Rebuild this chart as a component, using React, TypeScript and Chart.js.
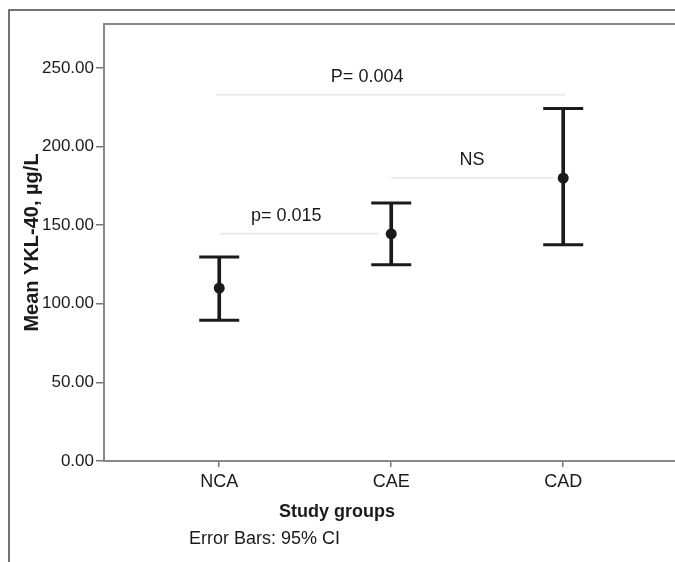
import React, { useEffect, useRef } from "react";
import { Chart, registerables } from "chart.js";

Chart.register(...registerables);

// ---- data ----
const groups = ["NCA", "CAE", "CAD"];
const groupX = [1, 2, 3];
const means = [110, 144.5, 180];
const ciLower = [89.5, 124.8, 137.5];
const ciUpper = [129.8, 164.2, 224.3];
const yTicks = [0, 50, 100, 150, 200, 250];

const comparisonLabels = ["p= 0.015", "NS", "P= 0.004"];
const comparisonFromX = [1.0, 2.0, 0.98];
const comparisonToX = [1.93, 2.94, 3.01];
const comparisonY = [144.5, 180, 233];
const comparisonLabelX = [1.39, 2.47, 1.86];

const yTitle = "Mean YKL-40, µg/L";
const xTitle = "Study groups";
const footnote = "Error Bars: 95% CI";

const FONT = '"Liberation Sans", Arial, sans-serif';
const INK = "#1a1a1a";

const decorPlugin = {
  id: "decor",
  beforeDraw(chart: any) {
    const ctx = chart.ctx;
    const { left, top, right } = chart.chartArea;
    ctx.save();
    ctx.fillStyle = "#ffffff";
    ctx.fillRect(0, 0, chart.width, chart.height);
    ctx.strokeStyle = "#444444";
    ctx.lineWidth = 1.5;
    ctx.beginPath();
    ctx.moveTo(9, chart.height);
    ctx.lineTo(9, 10);
    ctx.lineTo(chart.width, 10);
    ctx.stroke();
    ctx.strokeStyle = "#888888";
    ctx.lineWidth = 2;
    ctx.beginPath();
    ctx.moveTo(left, top);
    ctx.lineTo(right, top);
    ctx.stroke();
    ctx.restore();
  },
  afterDraw(chart: any) {
    const ctx = chart.ctx;
    const xs = chart.scales.x;
    const ys = chart.scales.y;
    ctx.save();
    ctx.fillStyle = INK;
    ctx.textBaseline = "middle";
    ctx.textAlign = "center";
    ctx.font = `18px ${FONT}`;
    comparisonLabels.forEach((t, i) => {
      ctx.fillText(t, xs.getPixelForValue(comparisonLabelX[i]), ys.getPixelForValue(comparisonY[i]) - 18);
    });
    ctx.textAlign = "left";
    ctx.font = `bold 18px ${FONT}`;
    ctx.fillText(xTitle, 279, 512);
    ctx.font = `18px ${FONT}`;
    ctx.fillText(footnote, 189, 539);
    ctx.restore();
  },
};

export default function App() {
  const canvasRef = useRef<HTMLCanvasElement | null>(null);

  useEffect(() => {
    if (!canvasRef.current) return;
    const capPoints: { x: number; y: number }[] = [];
    groupX.forEach((x, i) => {
      capPoints.push({ x, y: ciUpper[i] });
      capPoints.push({ x, y: ciLower[i] });
    });

    const comparisonSets = comparisonLabels.map((label, i) => ({
      type: "line" as const,
      label,
      data: [
        { x: comparisonFromX[i], y: comparisonY[i] },
        { x: comparisonToX[i], y: comparisonY[i] },
      ],
      showLine: true,
      borderColor: "#ebebeb",
      borderWidth: 2,
      pointRadius: 0,
      fill: false,
    }));

    const chart = new Chart(canvasRef.current, {
      type: "scatter",
      data: {
        datasets: [
          {
            type: "scatter",
            label: "Mean",
            data: groupX.map((x, i) => ({ x, y: means[i] })),
            pointRadius: 5.5,
            pointBackgroundColor: INK,
            pointBorderColor: INK,
            pointBorderWidth: 0,
          },
          {
            type: "scatter",
            label: "CI caps",
            data: capPoints,
            pointStyle: "line",
            pointRadius: 20,
            pointBorderWidth: 3,
            pointBorderColor: INK,
            borderColor: INK,
          },
          {
            type: "bar",
            label: "CI",
            data: groupX.map((x, i) => ({ x, y: [ciLower[i], ciUpper[i]] })) as any,
            barThickness: 3,
            backgroundColor: INK,
            borderWidth: 0,
          },
          ...comparisonSets,
        ] as any,
      },
      options: {
        responsive: false,
        animation: false,
        events: [],
        layout: { autoPadding: false, padding: { top: 24, left: 0, right: 0, bottom: 0 } },
        plugins: { legend: { display: false }, tooltip: { enabled: false } },
        font: { family: FONT },
        scales: {
          x: {
            type: "linear",
            min: 0.33,
            max: 3.65,
            offset: false,
            afterBuildTicks: (s: any) => {
              s.ticks = groupX.map((v) => ({ value: v }));
            },
            afterFit: (s: any) => {
              s.height = 101;
              s.paddingLeft = 0;
              s.paddingRight = 0;
            },
            ticks: {
              callback: (_v: any, i: number) => groups[i],
              font: { family: FONT, size: 18 },
              color: INK,
              padding: 4,
              maxRotation: 0,
            },
            grid: {
              offset: false,
              drawOnChartArea: false,
              drawTicks: true,
              tickLength: 6,
              color: "#777777",
              lineWidth: 1.5,
            },
            border: { color: "#888888", width: 2 },
          },
          y: {
            type: "linear",
            min: 0,
            max: 278,
            afterBuildTicks: (s: any) => {
              s.ticks = yTicks.map((v) => ({ value: v }));
            },
            afterFit: (s: any) => {
              s.width = 104;
            },
            ticks: {
              callback: (v: any) => Number(v).toFixed(2),
              font: { family: FONT, size: 17 },
              color: INK,
              padding: 2,
            },
            grid: {
              offset: false,
              drawOnChartArea: false,
              drawTicks: true,
              tickLength: 8,
              color: "#777777",
              lineWidth: 1.5,
            },
            border: { color: "#888888", width: 2 },
            title: {
              display: true,
              text: yTitle,
              font: { family: FONT, size: 20, weight: "bold" },
              color: INK,
              padding: { top: 20, bottom: 0 },
            },
          },
        },
      } as any,
      plugins: [decorPlugin],
    });
    return () => chart.destroy();
  }, []);

  return (
    <div style={{ position: "fixed", left: 0, top: 0, width: 675, height: 562, background: "#fff" }}>
      <canvas ref={canvasRef} width={675} height={562} style={{ display: "block", width: 675, height: 562 }} />
    </div>
  );
}
